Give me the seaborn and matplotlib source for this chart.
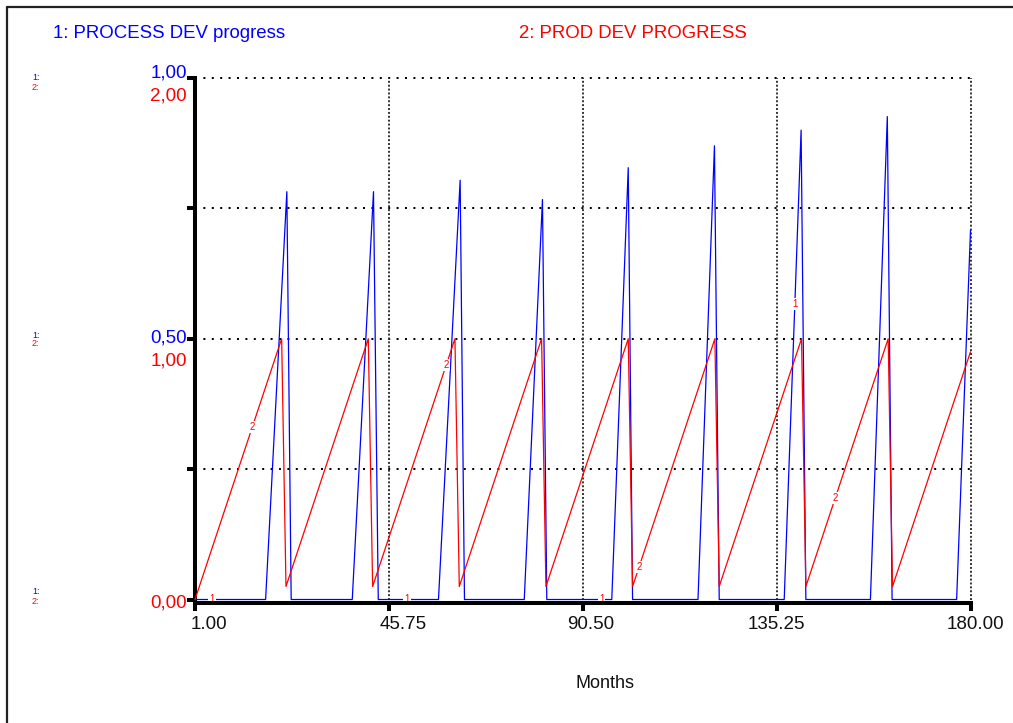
import numpy as np
import pandas as pd
import matplotlib
matplotlib.use("Agg")
import matplotlib.pyplot as plt
import seaborn as sns
from matplotlib import transforms
from matplotlib.lines import Line2D

# ---------------- data ----------------
months_process = [1, 17.3, 22.2, 23.2, 37.3, 42.2, 43.3, 57.2, 62.2, 63.2,
                  77.0, 81.2, 82.2, 97.2, 101.0, 102.0, 117.1, 120.9, 122.0,
                  137.0, 140.9, 142.0, 156.9, 160.8, 161.9, 176.8, 180]
process_dev = [0, 0, 0.782, 0, 0, 0.782, 0, 0, 0.804, 0,
               0, 0.767, 0, 0, 0.828, 0, 0, 0.870, 0,
               0, 0.900, 0, 0, 0.926, 0, 0, 0.708]

months_prod = [1, 21, 22, 41, 42, 61, 62, 81, 82, 101, 102,
               121, 122, 141, 142, 161, 162, 180]
prod_dev = [0, 1.0, 0.05, 1.0, 0.05, 1.0, 0.05, 1.0, 0.05, 1.0, 0.05,
            1.0, 0.05, 1.0, 0.05, 1.0, 0.05, 0.95]

x_ticks = [1.00, 45.75, 90.50, 135.25, 180.00]
x_tick_labels = ["1.00", "45.75", "90.50", "135.25", "180.00"]
y_grid = [0.25, 0.5, 0.75, 1.0]
y1_label_vals = [1.0, 0.5]
y1_labels = ["1,00", "0,50"]
y2_label_vals = [2.0, 1.0, 0.0]
y2_labels = ["2,00", "1,00", "0,00"]

series1_name = "1: PROCESS DEV progress"
series2_name = "2: PROD DEV PROGRESS"
x_title = "Months"

# marker labels placed on the lines (months)
marks1_bottom = [4.9, 49.9, 94.9]
marks1_line = [139.6]
marks2_line = [14.2, 59.0, 103.5, 148.8]

BLUE = "#0000ff"
RED = "#ff0000"

# ---------------- figure ----------------
sns.set_theme(style="white")
plt.rcParams['font.family'] = ['Liberation Sans', 'DejaVu Sans']

W, H = 1013, 723
fig = plt.figure(figsize=(W / 100, H / 100), dpi=100)
fig.patch.set_facecolor("white")


def fx(px):
    return px / W


def fy(py):
    return 1 - py / H


ax = fig.add_axes([fx(195), fy(599.5), fx(970.5) - fx(195), fy(78) - fy(599.5)])
ax.set_facecolor("white")
ax.set_xlim(1, 180)
ax.set_ylim(0, 1)

df1 = pd.DataFrame({"month": months_process, "value": process_dev})
df2 = pd.DataFrame({"month": months_prod, "value": prod_dev})

ax2 = ax.twinx()
ax2.set_ylim(0, 2)
ax2.patch.set_visible(False)
for s in ax2.spines.values():
    s.set_visible(False)
ax2.set_yticks([])
ax2.grid(False)

sns.lineplot(data=df1, x="month", y="value", ax=ax, color=BLUE, lw=0.9,
             sort=False, zorder=5)
sns.lineplot(data=df2, x="month", y="value", ax=ax2, color=RED, lw=0.9,
             sort=False, zorder=4)
for l in ax.lines + ax2.lines:
    l.set_clip_on(False)
ax.set_xlabel("")
ax.set_ylabel("")
ax2.set_ylabel("")

# spines
for side in ["top", "right"]:
    ax.spines[side].set_visible(False)
ax.spines["left"].set_linewidth(2.9)
ax.spines["left"].set_color("black")
ax.spines["left"].set_capstyle("projecting")
ax.spines["bottom"].set_linewidth(2.9)
ax.spines["bottom"].set_color("black")
ax.spines["bottom"].set_position(("outward", 2.2))
ax.spines["bottom"].set_capstyle("projecting")
ax.spines["bottom"].set_zorder(6)

ax.set_xticks(x_ticks)
ax.set_yticks([0] + y_grid)
ax.tick_params(axis="both", direction="out", length=5.5, width=2.9,
               color="black", labelbottom=False, labelleft=False,
               bottom=True, left=True)

# dotted grid
for yv in y_grid:
    ax.axhline(yv, color="black", lw=1.44, linestyle=(0, (1, 3.2)), zorder=1,
               clip_on=False)
for xv in x_ticks[1:]:
    ax.axvline(xv, color="#333333", lw=1.4, linestyle=(0, (1, 1)), zorder=1,
               clip_on=False)

# tick labels
x_offsets = [14, 14, 8, 0, 5]
for xv, lab, dx in zip(x_ticks, x_tick_labels, x_offsets):
    tr = transforms.offset_copy(ax.transData, fig=fig, x=dx, y=-25, units="dots")
    ax.text(xv, 0, lab, transform=tr, ha="center", va="center",
            fontsize=13.5, color="#111111")

bl1 = transforms.blended_transform_factory(ax.transAxes, ax.transData)
bl2 = transforms.blended_transform_factory(ax2.transAxes, ax2.transData)
y1_off = [5.3, 1]
for yv, lab, dy in zip(y1_label_vals, y1_labels, y1_off):
    tr = transforms.offset_copy(bl1, fig=fig, x=-8, y=dy, units="dots")
    ax.text(0, yv, lab, transform=tr, ha="right", va="center",
            fontsize=13.5, color=BLUE)
y2_off = [-18, -22, -3.5]
for yv, lab, dy in zip(y2_label_vals, y2_labels, y2_off):
    tr = transforms.offset_copy(bl2, fig=fig, x=-8, y=dy, units="dots")
    ax2.text(0, yv, lab, transform=tr, ha="right", va="center",
             fontsize=13.5, color=RED)

# tiny "1:" "2:" markers at left
for py1, py2 in [(77, 87), (335, 344), (592, 602)]:
    fig.text(fx(32), fy(py1), "1:", color=BLUE, fontsize=6.5, ha="left", va="center")
    fig.text(fx(32), fy(py2), "2:", color=RED, fontsize=6.5, ha="left", va="center")

# legend titles
fig.text(fx(53), fy(33), series1_name, color=BLUE, fontsize=13.4,
         ha="left", va="center")
fig.text(fx(519), fy(33), series2_name, color=RED, fontsize=13.4,
         ha="left", va="center")

# axis title
fig.text(fx(605), fy(683), x_title, color="#111111", fontsize=13,
         ha="center", va="center")

# line labels
bbox = dict(boxstyle="square,pad=0.1", fc="white", ec="none")
for m in marks1_bottom:
    ax.text(m, np.interp(m, months_process, process_dev), "1", color=RED,
            fontsize=7, ha="center", va="center", bbox=bbox, zorder=5.5,
            clip_on=False)
for m in marks1_line:
    ax.text(m, 0.566, "1", color=RED, fontsize=7, ha="center",
            va="center", bbox=bbox, zorder=7)
for m in marks2_line:
    ax2.text(m, np.interp(m, months_prod, prod_dev), "2", color=RED,
             fontsize=7, ha="center", va="center", bbox=bbox, zorder=7)

# outer frame (left and top edges)
fig.add_artist(Line2D([fx(7), fx(7)], [fy(7), 0], transform=fig.transFigure,
                      color="#222222", lw=1.6))
fig.add_artist(Line2D([fx(7), 1], [fy(7), fy(7)], transform=fig.transFigure,
                      color="#222222", lw=1.6))

fig.savefig("out.png", dpi=100)
